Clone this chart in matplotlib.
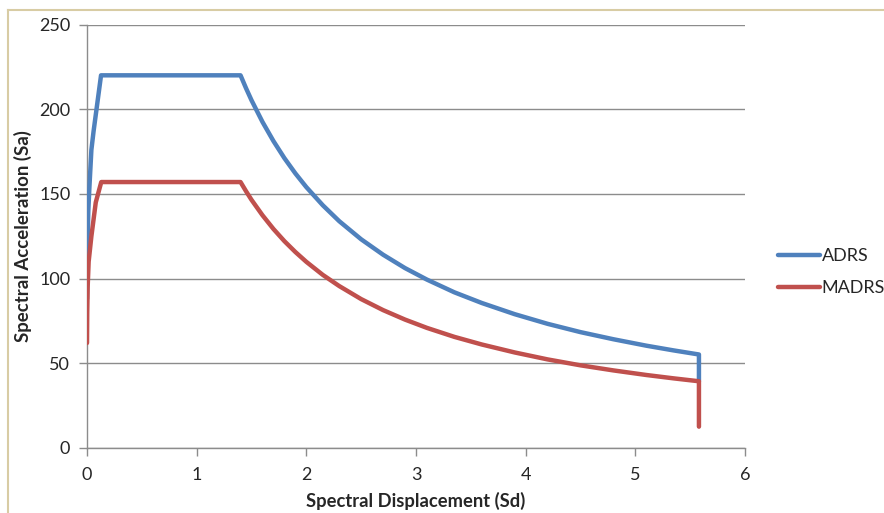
import matplotlib
matplotlib.use("Agg")
import matplotlib.pyplot as plt
from matplotlib.lines import Line2D

# Design response spectra in acceleration-displacement format
adrs_sd = [0.0, 0.002, 0.005, 0.012, 0.022, 0.04, 0.06, 0.128,
           1.4, 1.45, 1.5, 1.6, 1.7, 1.8, 1.9, 2.0, 2.15, 2.3, 2.5, 2.7, 2.9, 3.1,
           3.35, 3.6, 3.9, 4.2, 4.5, 4.8, 5.1, 5.35, 5.58, 5.58]
adrs_sa = [88, 105, 121, 140, 154, 176, 187, 220,
           220, 212.4, 205.3, 192.5, 181.2, 171.1, 162.1, 154, 143.3, 133.9, 123.2, 114.1, 106.2, 99.4,
           91.9, 85.6, 79, 73.3, 68.4, 64.2, 60.4, 57.6, 55.2, 39.4]

madrs_sd = [0.0, 0.002, 0.006, 0.015, 0.04, 0.08, 0.13,
            1.4, 1.45, 1.5, 1.6, 1.7, 1.8, 1.9, 2.0, 2.15, 2.3, 2.5, 2.7, 2.9, 3.1,
            3.35, 3.6, 3.9, 4.2, 4.5, 4.8, 5.1, 5.35, 5.58, 5.58]
madrs_sa = [62, 80, 95, 110, 125, 145, 157,
            157, 151.6, 146.5, 137.4, 129.3, 122.1, 115.7, 109.9, 102.2, 95.6, 87.9, 81.4, 75.8, 70.9,
            65.6, 61.1, 56.4, 52.3, 48.8, 45.8, 43.1, 41.1, 39.4, 12.6]

series_names = ["ADRS", "MADRS"]
x_ticks = [0, 1, 2, 3, 4, 5, 6]
y_ticks = [0, 50, 100, 150, 200, 250]

blue = "#4F81BD"
red = "#C0504D"
grid_gray = "#8C8C8C"

plt.rcParams["font.family"] = ["Lato", "DejaVu Sans"]

fig = plt.figure(figsize=(8.84, 5.13), dpi=100)
ax = fig.add_axes([87 / 884, 1 - 448 / 513, (745 - 87) / 884, (448 - 24.5) / 513])

ax.plot(adrs_sd, adrs_sa, color=blue, lw=3.2, solid_joinstyle="round", solid_capstyle="round", zorder=3)
ax.plot(madrs_sd, madrs_sa, color=red, lw=3.2, solid_joinstyle="round", solid_capstyle="round", zorder=4)

ax.set_xlim(0, 6)
ax.set_ylim(0, 250)
ax.set_xticks(x_ticks)
ax.set_yticks(y_ticks)
ax.yaxis.grid(True, color=grid_gray, lw=1.0)
ax.set_axisbelow(True)
for s in ["top", "right"]:
    ax.spines[s].set_visible(False)
for s in ["left", "bottom"]:
    ax.spines[s].set_color(grid_gray)
    ax.spines[s].set_linewidth(1.0)
ax.tick_params(axis="both", colors=grid_gray, length=6, width=1.0, labelcolor="#262626",
               labelsize=13)
ax.tick_params(axis="x", pad=8)
ax.tick_params(axis="y", pad=6)

ax.set_xlabel("Spectral Displacement (Sd)", fontsize=13.2, fontweight="bold", color="#262626", labelpad=6)
ax.set_ylabel("Spectral Acceleration (Sa)", fontsize=13.4, fontweight="bold", color="#262626", labelpad=5)

handles = [Line2D([], [], color=blue, lw=3.2, solid_capstyle="round"),
           Line2D([], [], color=red, lw=3.2, solid_capstyle="round")]
fig.legend(handles, series_names, loc="center left", bbox_to_anchor=(762 / 884, 1 - 272 / 513),
           frameon=False, fontsize=13, handlelength=2.3, handletextpad=0.1, labelspacing=0.9,
           labelcolor="#262626")

# Chart frame
border = "#D8CCA4"
fig.add_artist(Line2D([8 / 884, 8 / 884], [0, 1 - 10 / 513], color=border, lw=1.5, transform=fig.transFigure))
fig.add_artist(Line2D([8 / 884, 883 / 884], [1 - 10 / 513, 1 - 10 / 513], color=border, lw=1.5,
                      transform=fig.transFigure))

fig.savefig("out.png", dpi=100)
